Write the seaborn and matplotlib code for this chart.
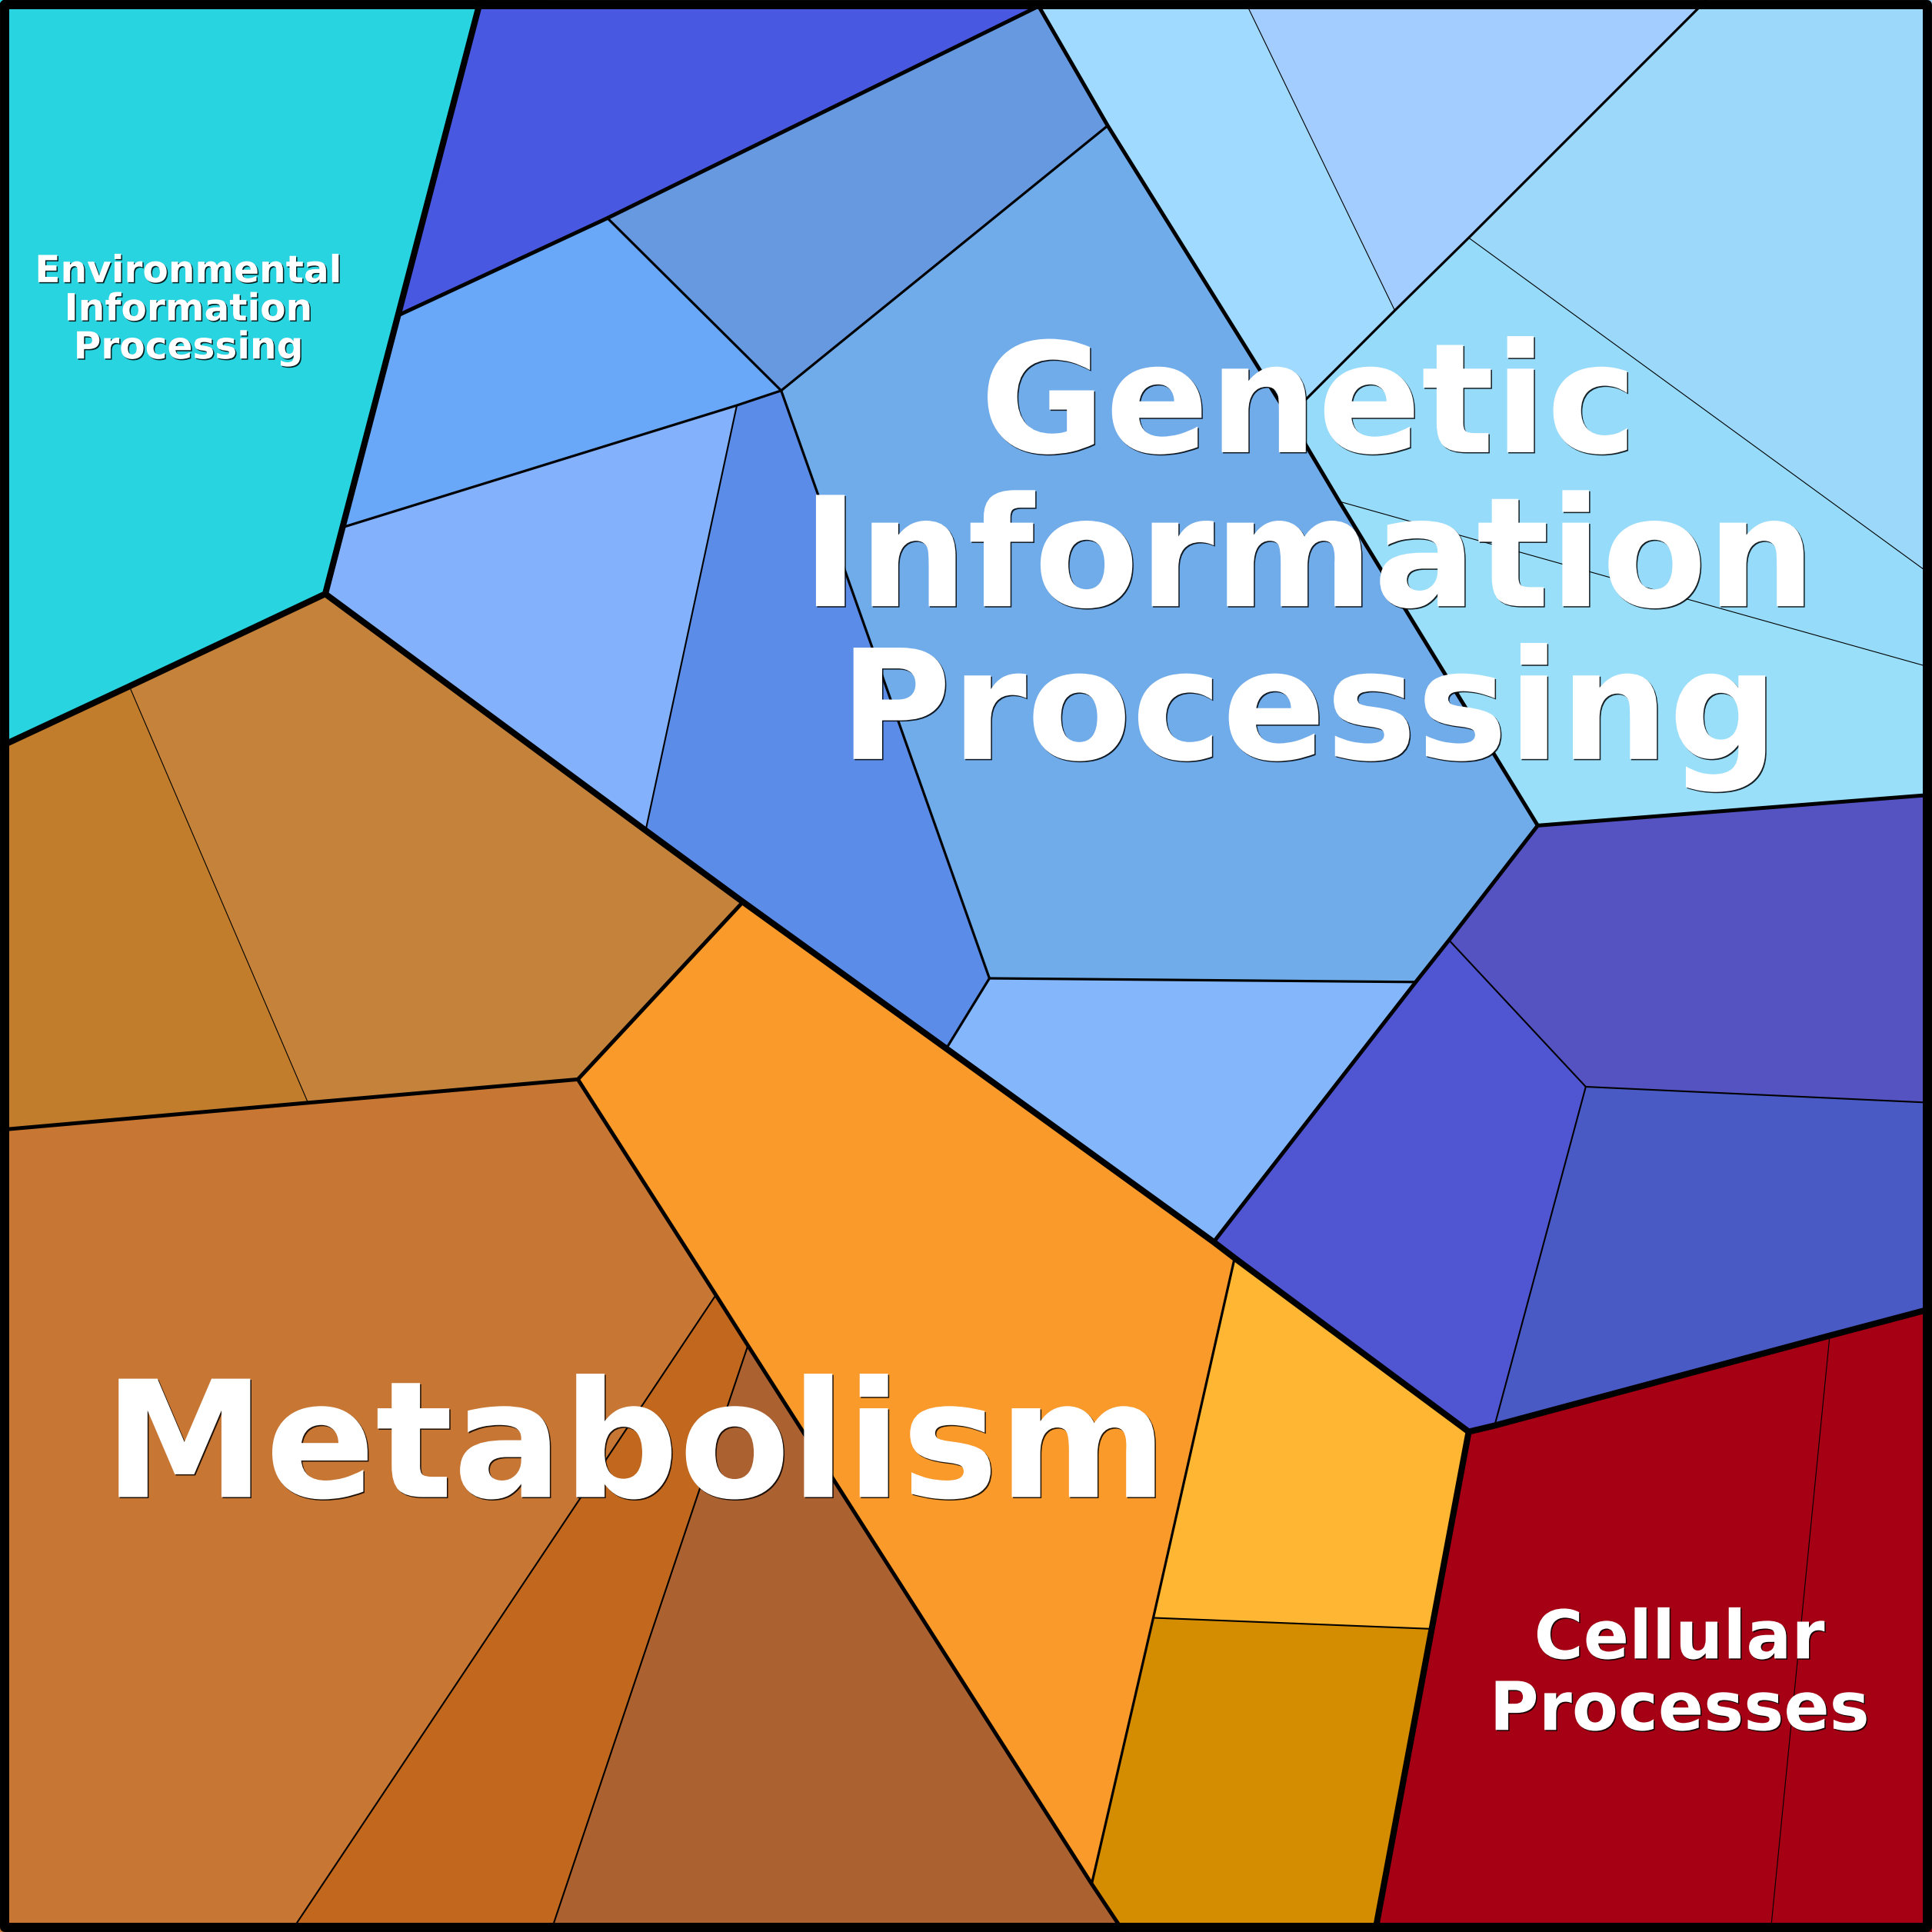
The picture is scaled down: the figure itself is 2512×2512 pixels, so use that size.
import matplotlib
matplotlib.use("Agg")
from matplotlib import pyplot as plt
from matplotlib import patheffects as pe
import seaborn as sns

sns.set_theme(style="white")
plt.rcParams['font.family'] = ['DejaVu Sans']

# vertices of the voronoi cells (0..1568 box, y down)
pts = {
    "tl": (0, 0), "tr": (1568, 0), "bl": (0, 1568), "br": (1568, 1568),
    "a": (390, 0), "b": (843, 5), "c": (1010, 0), "d": (1385, 0),
    "e": (323, 256), "f": (278, 428), "g": (264, 482),
    "h": (493, 177), "i": (634, 317), "j": (598, 329), "k": (899, 102),
    "l": (524, 674), "m": (603, 732), "n": (768, 851), "o": (803, 794),
    "p": (1149, 797), "q": (985, 1008), "r": (1248, 670),
    "s": (1046, 338), "t": (1087, 407), "u": (1132, 252), "v": (1192, 193),
    "w": (1568, 467), "x": (1568, 542), "y": (1568, 645), "z": (1176, 763),
    "p1": (1287, 882), "p2": (1568, 895), "p3": (1213, 1157), "p4": (1568, 1062),
    "c1": (1192, 1162), "c2": (1485, 1084), "c3": (1437, 1568), "c4": (1116, 1568),
    "e1": (105, 557), "e2": (0, 606),
    "m1": (250, 895), "m2": (0, 917), "m3": (469, 876), "m4": (581, 1051),
    "m5": (607, 1092), "m6": (236, 1568), "m7": (447, 1568), "m8": (912, 1568),
    "o1": (1002, 1021), "o2": (936, 1313), "o3": (886, 1529), "o4": (1162, 1322),
}

cells = [
    # Environmental Information Processing
    (["tl", "a", "e", "f", "g", "e1", "e2"], "#28D4E0"),
    # Genetic Information Processing
    (["a", "b", "h", "e"], "#4858E0"),
    (["b", "k", "i", "h"], "#6699E0"),
    (["h", "i", "j", "f", "e"], "#69A8F8"),
    (["f", "j", "l", "g"], "#84B1FC"),
    (["j", "i", "o", "n", "m", "l"], "#5B8CE8"),
    (["i", "k", "s", "t", "r", "p", "o"], "#70ACEA"),
    (["o", "p", "q", "n"], "#84B6FC"),
    (["b", "c", "u", "s", "k"], "#A0DBFF"),
    (["c", "d", "v", "u"], "#A2CDFE"),
    (["d", "tr", "w", "v"], "#9CD8FA"),
    (["s", "u", "v", "w", "x", "t"], "#96DBFA"),
    (["t", "x", "y", "r"], "#9ADFF9"),
    (["r", "y", "p2", "p1", "z"], "#5553C2"),
    (["z", "p1", "p3", "c1", "o1", "q", "p"], "#5055D2"),
    (["p1", "p2", "p4", "c2", "p3"], "#4A5AC4"),
    # Cellular Processes
    (["c1", "c2", "c3", "c4"], "#A50013"),
    (["c2", "p4", "br", "c3"], "#A50013"),
    # Metabolism
    (["e2", "e1", "m1", "m2"], "#C27D2C"),
    (["e1", "g", "l", "m", "m3", "m1"], "#C4823B"),
    (["m2", "m1", "m3", "m4", "m6", "bl"], "#C77633"),
    (["m4", "m5", "m7", "m6"], "#C1681E"),
    (["m5", "m8", "m7"], "#AC6230"),
    (["m3", "m", "n", "q", "o1", "o2", "o3", "m5", "m4"], "#F99A2A"),
    (["o1", "c1", "o4", "o2"], "#FEB633"),
    (["o2", "o4", "c4", "m8", "o3"], "#D48D00"),
]

# borders between cells, by level of the hierarchy
borders = [
    (1, ["a", "e", "f", "g", "e1", "e2"]),
    (1, ["g", "l", "m", "n", "q", "o1", "c1"]),
    (1, ["p4", "c2", "p3", "c1", "o4", "c4"]),
    (2, ["b", "k", "s", "t", "r"]),
    (2, ["r", "y"]),
    (2, ["r", "z", "p", "q"]),
    (2, ["b", "h", "e"]),
    (2, ["m2", "m1", "m3", "m"]),
    (2, ["m3", "m4", "m5", "o3", "m8"]),
    (3, ["h", "i", "k"]),
    (3, ["f", "j", "i", "o", "n"]),
    (3, ["o", "p"]),
    (3, ["o1", "o2", "o3"]),
    (3, ["d", "v", "u", "s"]),
    (4, ["j", "l"]),
    (4, ["z", "p1", "p2"]),
    (4, ["p1", "p3"]),
    (4, ["o2", "o4"]),
    (4, ["m4", "m6"]),
    (4, ["m5", "m7"]),
    (5, ["e1", "m1"]),
    (5, ["c", "u"]),
    (5, ["v", "w"]),
    (5, ["t", "x"]),
    (5, ["c2", "c3"]),
]
level_width = {1: 5.8, 2: 3.6, 3: 2.3, 4: 1.5, 5: 0.8}

labels = ["Environmental\nInformation\nProcessing", "Genetic\nInformation\nProcessing",
          "Metabolism", "Cellular\nProcesses"]
label_x = [153, 1062, 516, 1363]
label_baselines = [[229, 260, 291], [367, 492, 616], [1215], [1346, 1404]]
label_sizes = [35, 143, 152, 63]

fig = plt.figure(figsize=(25.12, 25.12), dpi=100)
ax = fig.add_axes([0, 0, 1, 1])
ax.set_xlim(0, 1568)
ax.set_ylim(1568, 0)
ax.axis("off")

for names, color in cells:
    xs = [pts[nm][0] for nm in names]
    ys = [pts[nm][1] for nm in names]
    ax.fill(xs, ys, color=color, ec=color, lw=0.6, zorder=1)

for level, names in borders:
    xs = [pts[nm][0] for nm in names]
    ys = [pts[nm][1] for nm in names]
    ax.plot(xs, ys, color="black", lw=level_width[level],
            solid_joinstyle="round", solid_capstyle="round", zorder=2)

# outer frame
ax.plot([3.7, 1564.3, 1564.3, 3.7, 3.7], [3.7, 3.7, 1564.3, 1564.3, 3.7],
        color="black", lw=8.6, solid_joinstyle="round", zorder=3)

shadow = [pe.withSimplePatchShadow(offset=(1.1, -1.1), shadow_rgbFace="black", alpha=0.85)]
for text, x, bases, size in zip(labels, label_x, label_baselines, label_sizes):
    for line, yb in zip(text.split("\n"), bases):
        ax.text(x, yb, line, ha="center", va="baseline", fontsize=size,
                fontweight="bold", color="white", path_effects=shadow, zorder=4)

fig.savefig("out.png", dpi=100)
